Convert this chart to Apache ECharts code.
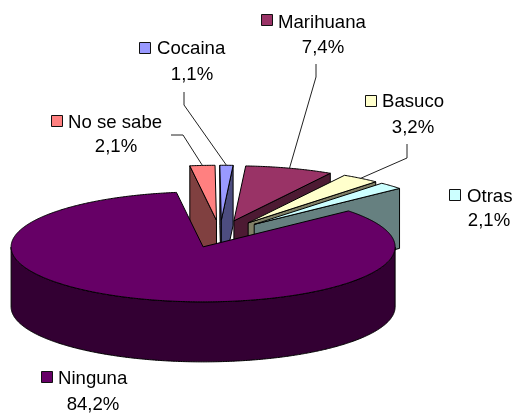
<!DOCTYPE html>
<html>
<head>
<meta charset="utf-8">
<style>html,body{margin:0;padding:0;background:#fff}#c{width:516px;height:415px}</style>
<script src="https://cdn.jsdelivr.net/npm/echarts@6/dist/echarts.min.js"></script>
</head>
<body>
<div id="c"></div>
<script>
// Data
const categories = ['Ninguna', 'No se sabe', 'Cocaina', 'Marihuana', 'Basuco', 'Otras'];
const values = [84.2, 2.1, 1.1, 7.4, 3.2, 2.1];
const valueLabels = ['84,2%', '2,1%', '1,1%', '7,4%', '3,2%', '2,1%'];

// Style
const topColors = ['#660066', '#FF8080', '#9999FF', '#993366', '#FFFFCC', '#CCFFFF'];
const sideColors = ['#330033', '#804040', '#4D4D80', '#4D1A33', '#808066', '#668080'];
const drawRank = [5, 0, 1, 2, 3, 4];

// Layout
const cx = 220, cy = 234, rx = 192, ry = 55, depth = 60, explode = 0.25, startAngle = 40.8;
const fontSize = 18.6;
const fontFamily = '"Liberation Sans", Arial, sans-serif';
// [key left, key top, name left, name baseline, value centre, value baseline]
const labelBoxes = [
  [41, 371, 58, 384, 93, 410],
  [51, 115, 68, 128, 116, 152],
  [139, 42, 157, 54, 192, 80],
  [261, 14, 278, 28, 323, 53],
  [365, 95, 382, 107, 413, 133],
  [449, 189, 467, 202, 489, 226]
];
// leader: [start x, start y, elbow x, elbow y] or null
const leaders = [
  null,
  [171, 135, 183, 135],
  [184, 92, 184, 105],
  [316, 64, 316, 77],
  [407, 144, 407, 158],
  null
];

const total = values.reduce((a, b) => a + b, 0);
const rad = d => d * Math.PI / 180;
const spans = [];
values.reduce((from, v) => {
  const to = from - v / total * 360;
  spans.push([from, to]);
  return to;
}, startAngle);

function renderItem(params, api) {
  const i = params.dataIndex;
  const [a0, a1] = spans[i];
  const mid = (a0 + a1) / 2;
  const ax = cx + explode * rx * Math.cos(rad(mid));
  const ay = cy - explode * ry * Math.sin(rad(mid));
  const rim = a => [ax + rx * Math.cos(rad(a)), ay - ry * Math.sin(rad(a))];
  const down = p => [p[0], p[1] + depth];
  const z = drawRank[i] * 10;
  const line = { stroke: '#000', lineWidth: 1, lineJoin: 'round' };
  const children = [];
  const poly = (points, fill, z2) => children.push({
    type: 'polygon', z2, shape: { points },
    style: Object.assign({ fill }, line)
  });
  // cut faces that look towards the viewer
  if (Math.cos(rad(a0)) < 0) {
    const r = rim(a0);
    poly([[ax, ay], r, down(r), [ax, ay + depth]], sideColors[i], z);
  }
  if (Math.cos(rad(a1)) > 0) {
    const r = rim(a1);
    poly([[ax, ay], r, down(r), [ax, ay + depth]], sideColors[i], z + 1);
  }
  // outer wall, lower half of the ellipse only
  const arc = [];
  for (let a = a0; a >= a1 - 1e-6; a -= 0.5) {
    if (Math.sin(rad(a)) <= 0) arc.push(rim(a));
  }
  if (arc.length > 1) {
    poly(arc.concat(arc.map(down).reverse()), sideColors[i], z + 2);
  }
  // top face
  const topPts = [[ax, ay]];
  for (let a = a0; a > a1; a -= 0.5) topPts.push(rim(a));
  topPts.push(rim(a1));
  poly(topPts, topColors[i], z + 3);

  // label
  const b = labelBoxes[i];
  children.push({
    type: 'rect', z2: 100,
    shape: { x: b[0] + 0.5, y: b[1] + 0.5, width: 11, height: 11 },
    style: { fill: topColors[i], stroke: '#111', lineWidth: 1 }
  });
  const font = fontSize + 'px ' + fontFamily;
  children.push({
    type: 'text', z2: 100, x: b[2], y: b[3] + 4,
    style: { text: categories[i], font, fill: '#000', align: 'left', verticalAlign: 'bottom' }
  });
  children.push({
    type: 'text', z2: 100, x: b[4], y: b[5] + 4,
    style: { text: valueLabels[i], font, fill: '#000', align: 'center', verticalAlign: 'bottom' }
  });
  const l = leaders[i];
  if (l) {
    children.push({
      type: 'polyline', z2: 90,
      shape: { points: [[l[0], l[1]], [l[2], l[3]], rim(mid)] },
      style: { stroke: '#222', lineWidth: 1, fill: null }
    });
  }
  return { type: 'group', children };
}

const chart = echarts.init(document.getElementById('c'), null, { renderer: 'canvas' });
chart.setOption({
  backgroundColor: '#fff',
  animation: false,
  series: [{
    type: 'custom',
    coordinateSystem: 'none',
    renderItem,
    silent: true,
    clip: false,
    data: values.map((v, i) => ({ name: categories[i], value: [i, v] }))
  }]
});
</script>
</body>
</html>
